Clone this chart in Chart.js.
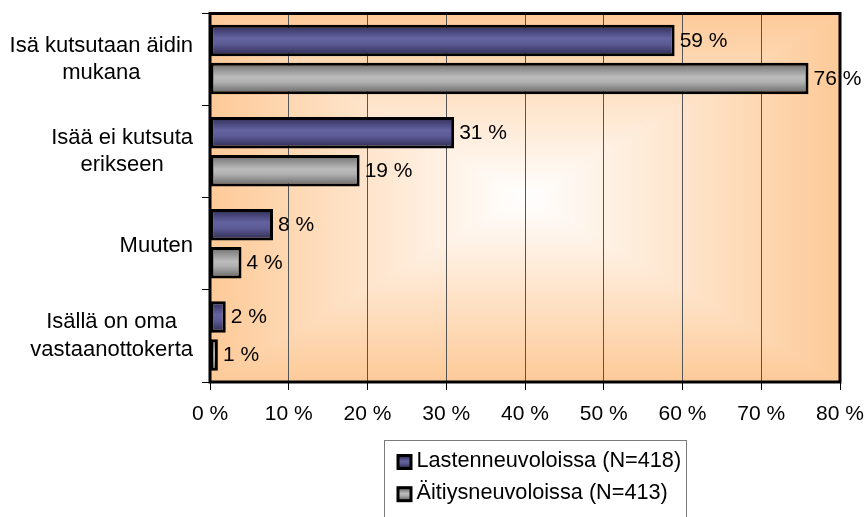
<!DOCTYPE html>
<html>
<head>
<meta charset="utf-8">
<script src="https://cdn.jsdelivr.net/npm/chart.js@4"></script>
<style>
  html, body { margin: 0; padding: 0; background: #ffffff; }
  #wrap { width: 868px; height: 517px; }
</style>
</head>
<body>
<div id="wrap"><canvas id="chart" width="868" height="517"></canvas></div>
<script>
// Categories (multi-line labels), series and axis ticks
const categories = [
  ['Isä kutsutaan äidin', 'mukana'],
  ['Isää ei kutsuta', 'erikseen'],
  ['Muuten'],
  ['Isällä on oma', 'vastaanottokerta']
];
const seriesNames = ['Lastenneuvoloissa (N=418)', 'Äitiysneuvoloissa (N=413)'];
const lastenneuvolat = [59, 31, 8, 2];
const aitiysneuvolat = [76, 19, 4, 1];
const xTickValues = [0, 10, 20, 30, 40, 50, 60, 70, 80];

const FONT = "'Liberation Sans', Arial, sans-serif";
const TICK_SIZE = 21;
const LABEL_SIZE = 22;
const LEGEND_SIZE = 21.7;
const CAT_PCT = 0.825;
const BAR_PCT = 0.83;

// Shaded fill (top -> bottom) for each series, giving a rounded tube look
const barShades = [
  [[0, '#2a2846'], [0.14, '#3f3d6c'], [0.42, '#6462a0'], [0.6, '#5e5c96'], [0.86, '#3c3a66'], [1, '#2a2846']],
  [[0, '#5e5e5e'], [0.14, '#858585'], [0.45, '#bcbcbc'], [0.6, '#b2b2b2'], [0.86, '#7e7e7e'], [1, '#5e5e5e']]
];

function shadeGradient(ctx, series, top, bottom) {
  const g = ctx.createLinearGradient(0, top, 0, bottom);
  barShades[series].forEach(([p, c]) => g.addColorStop(p, c));
  return g;
}

function barFill(context) {
  const chart = context.chart;
  const y = chart.scales && chart.scales.y;
  const series = context.datasetIndex;
  if (context.type !== 'data' || !chart.chartArea || !y) return barShades[series][2][1];
  const catH = (y.bottom - y.top) / categories.length;
  const slot = catH * CAT_PCT / 2;
  const h = slot * BAR_PCT;
  const c = y.getPixelForValue(context.dataIndex) + (series - 0.5) * slot;
  return shadeGradient(chart.ctx, series, c - h / 2, c + h / 2);
}

// Plot background: white centre fading to peach towards every edge
const plotBackground = {
  id: 'plotBackground',
  beforeDraw(chart) {
    const { ctx, chartArea: a } = chart;
    const cx = (a.left + a.right) / 2, cy = (a.top + a.bottom) / 2;
    const edge = 'rgb(253,202,152)';
    ctx.save();
    ctx.fillStyle = edge;
    ctx.fillRect(a.left, a.top, a.right - a.left, a.bottom - a.top);
    const sides = [
      [[a.left, a.top], [a.right, a.top], [cx, a.top]],
      [[a.right, a.top], [a.right, a.bottom], [a.right, cy]],
      [[a.right, a.bottom], [a.left, a.bottom], [cx, a.bottom]],
      [[a.left, a.bottom], [a.left, a.top], [a.left, cy]]
    ];
    sides.forEach(([p1, p2, m]) => {
      const g = ctx.createLinearGradient(cx, cy, m[0], m[1]);
      g.addColorStop(0, '#ffffff');
      g.addColorStop(1, edge);
      ctx.beginPath();
      ctx.moveTo(cx, cy);
      ctx.lineTo(p1[0], p1[1]);
      ctx.lineTo(p2[0], p2[1]);
      ctx.closePath();
      ctx.fillStyle = g;
      ctx.fill();
      ctx.strokeStyle = g;
      ctx.lineWidth = 0.6;
      ctx.stroke();
    });
    ctx.restore();
  }
};

// Heavy black frame around the plot area
const plotFrame = {
  id: 'plotFrame',
  beforeDatasetsDraw(chart) {
    const { ctx, chartArea: a } = chart;
    ctx.save();
    ctx.strokeStyle = '#000000';
    ctx.lineWidth = 3;
    ctx.strokeRect(a.left, a.top, a.right - a.left, a.bottom - a.top);
    ctx.restore();
  }
};

// Category labels (block right-aligned, lines centred), value labels and boxed legend
const textLayer = {
  id: 'textLayer',
  afterDraw(chart) {
    const { ctx } = chart;
    const yScale = chart.scales.y;
    ctx.save();
    ctx.fillStyle = '#000000';
    ctx.textBaseline = 'alphabetic';

    // category labels
    ctx.font = LABEL_SIZE + 'px ' + FONT;
    const rightEdge = 193;
    const lineGap = 27.6;
    categories.forEach((lines, i) => {
      const center = yScale.getPixelForValue(i);
      const blockW = Math.max(...lines.map(l => ctx.measureText(l).width));
      const cx = rightEdge - blockW / 2;
      const mid = center + (lines.length > 1 ? 6 : 7.8);
      ctx.textAlign = 'center';
      lines.forEach((l, k) => {
        ctx.fillText(l, cx, mid + (k - (lines.length - 1) / 2) * lineGap);
      });
    });

    // value labels at the end of each bar
    ctx.font = TICK_SIZE + 'px ' + FONT;
    ctx.textAlign = 'left';
    chart.data.datasets.forEach((ds, d) => {
      const meta = chart.getDatasetMeta(d);
      meta.data.forEach((el, i) => {
        ctx.fillText(ds.data[i] + ' %', el.x + 5, el.y + 6.5);
      });
    });

    // legend box
    ctx.font = LEGEND_SIZE + 'px ' + FONT;
    ctx.strokeStyle = '#7a7a7a';
    ctx.lineWidth = 1;
    ctx.strokeRect(384.5, 440.5, 302, 100);
    chart.data.datasets.forEach((ds, d) => {
      const base = 467 + d * 32.2;
      const sx = 396.5, sy = base - 13, s = 16;
      ctx.fillStyle = '#000000';
      ctx.fillRect(sx, sy, s, s);
      ctx.fillStyle = shadeGradient(ctx, d, sy + 2, sy + s - 2);
      ctx.fillRect(sx + 3, sy + 3, s - 6, s - 6);
      ctx.fillStyle = '#000000';
      ctx.textAlign = 'left';
      ctx.fillText(ds.label, 416.5, base);
    });
    ctx.restore();
  }
};

const barStyle = {
  categoryPercentage: CAT_PCT,
  barPercentage: BAR_PCT,
  backgroundColor: barFill,
  borderColor: '#000000',
  borderWidth: 3,
  borderSkipped: false
};

new Chart(document.getElementById('chart'), {
  type: 'bar',
  data: {
    labels: categories,
    datasets: [
      Object.assign({ label: seriesNames[0], data: lastenneuvolat }, barStyle),
      Object.assign({ label: seriesNames[1], data: aitiysneuvolat }, barStyle)
    ]
  },
  options: {
    responsive: false,
    animation: false,
    indexAxis: 'y',
    layout: { padding: { top: 13.5, right: 28, left: 0, bottom: 0 } },
    plugins: {
      colors: { enabled: false },
      legend: { display: false },
      tooltip: { enabled: false }
    },
    scales: {
      x: {
        min: 0,
        max: 80,
        afterBuildTicks: (s) => { s.ticks = xTickValues.map(v => ({ value: v })); },
        afterFit: (s) => { s.height = 135; s.paddingLeft = 0; s.paddingRight = 0; },
        grid: { color: '#555555', lineWidth: 1, tickColor: '#000000', tickLength: 8, drawTicks: true },
        border: { display: false },
        ticks: {
          color: '#000000',
          font: { family: FONT, size: TICK_SIZE },
          padding: 12,
          maxRotation: 0,
          autoSkip: false,
          callback: (v) => v + ' %'
        }
      },
      y: {
        afterFit: (s) => { s.width = 210; },
        grid: { drawOnChartArea: false, offset: true, tickColor: '#000000', tickLength: 8 },
        border: { display: false },
        ticks: { display: false }
      }
    }
  },
  plugins: [plotBackground, plotFrame, textLayer]
});
</script>
</body>
</html>
